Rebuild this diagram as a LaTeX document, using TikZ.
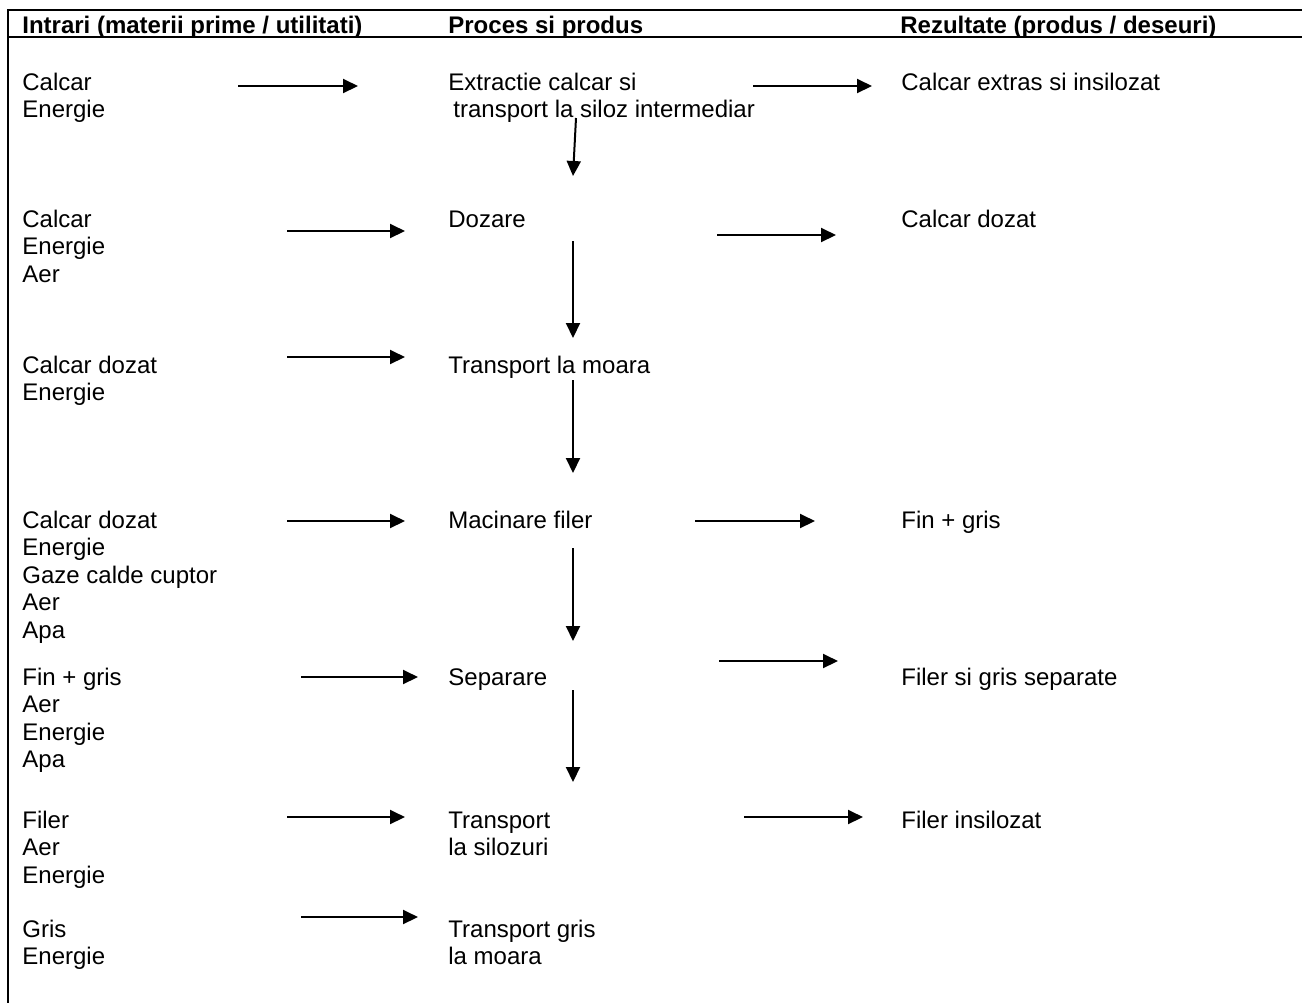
\documentclass[tikz,border=0pt]{standalone}
\usepackage{fontspec}
\setmainfont{Liberation Sans}
\usetikzlibrary{arrows.meta}

\tikzset{
  txt/.style={anchor=base west, align=left, inner sep=0pt, font=\fontsize{12}{13.8}\selectfont},
  head/.style={txt, font=\fontsize{12}{13.8}\selectfont\bfseries},
  flow/.style={-{Triangle[length=7.5pt,width=7pt]}, line width=1pt},
  frame/.style={line width=1pt}
}

\begin{document}
\begin{tikzpicture}[x=0.5pt,y=-0.5pt]
    \useasboundingbox (0,0) rectangle (1302,1003);
    % frame and header
    \coordinate (tl) at (8,10);
    \coordinate (tr) at (1302,10);
    \coordinate (hl) at (8,37);
    \coordinate (hr) at (1302,37);
    \coordinate (bl) at (8,1003);
    \draw [frame] (tr) -- (tl) -- (bl);
    \draw [frame] (hl) -- (hr);
    \node [head] (hin) at (22,33) {Intrari (materii prime / utilitati)};
    \node [head] (hproc) at (448,33) {Proces si produs};
    \node [head] (hout) at (900,33) {Rezultate (produs / deseuri)};

    % inputs (base = last line)
    \node [txt] (in1) at (22,117.6) {Calcar\\Energie};
    \node [txt] (in2) at (22,282.2) {Calcar\\Energie\\Aer};
    \node [txt] (in3) at (22,400.6) {Calcar dozat\\Energie};
    \node [txt] (in4) at (22,638.4) {Calcar dozat\\Energie\\Gaze calde cuptor\\Aer\\Apa};
    \node [txt] (in5) at (22,767.8) {Fin + gris\\Aer\\Energie\\Apa};
    \node [txt] (in6) at (22,883.2) {Filer\\Aer\\Energie};
    \node [txt] (in7) at (22,964.6) {Gris\\Energie};

    % process
    \node [txt] (proc1) at (448,117.6) {Extractie calcar si\\\hspace*{2.5pt}transport la siloz intermediar};
    \node [txt] (proc2) at (448,227) {Dozare};
    \node [txt] (proc3) at (448,373) {Transport la moara};
    \node [txt] (proc4) at (448,528) {Macinare filer};
    \node [txt] (proc5) at (448,685) {Separare};
    \node [txt] (proc6) at (448,855.6) {Transport\\la silozuri};
    \node [txt] (proc7) at (448,964.6) {Transport gris\\la moara};

    % results
    \node [txt] (out1) at (901,90) {Calcar extras si insilozat};
    \node [txt] (out2) at (901,227) {Calcar dozat};
    \node [txt] (out4) at (901,528) {Fin + gris};
    \node [txt] (out5) at (901,685) {Filer si gris separate};
    \node [txt] (out6) at (901,828) {Filer insilozat};

    % arrows into the process
    \foreach \n/\xa/\xb/\y in {1/238/358/86, 2/287/405/231, 3/287/405/357, 4/287/405/521,
                               5/301/418/677, 6/287/405/817, 7/301/418/917} {
        \coordinate (ia\n) at (\xa,\y);
        \coordinate (ib\n) at (\xb,\y);
        \draw [flow] (ia\n) -- (ib\n);
    }
    % arrows to the results
    \foreach \n/\xa/\xb/\y in {1/753/872/86, 2/717/836/235, 4/695/815/521,
                               5/719/838/661, 6/744/863/817} {
        \coordinate (oa\n) at (\xa,\y);
        \coordinate (ob\n) at (\xb,\y);
        \draw [flow] (oa\n) -- (ob\n);
    }
    % arrows down the process
    \coordinate (da1) at (576,118);
    \coordinate (db1) at (573,176);
    \draw [flow] (da1) -- (db1);
    \foreach \n/\ya/\yb in {2/241/338, 3/380/473, 4/548/641, 5/690/782} {
        \coordinate (da\n) at (573,\ya);
        \coordinate (db\n) at (573,\yb);
        \draw [flow] (da\n) -- (db\n);
    }
\end{tikzpicture}
\end{document}
